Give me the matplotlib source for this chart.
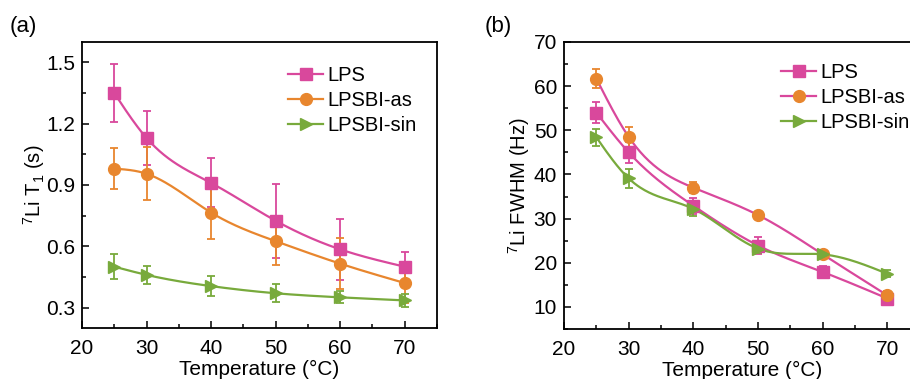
import numpy as np
import matplotlib
matplotlib.use("Agg")
import matplotlib.pyplot as plt
from matplotlib.ticker import MultipleLocator

plt.rcParams['font.family'] = ['Liberation Sans', 'DejaVu Sans']
plt.rcParams['mathtext.fontset'] = 'custom'
plt.rcParams['mathtext.rm'] = 'Liberation Sans'
plt.rcParams['mathtext.it'] = 'Liberation Sans'

temps = [25, 30, 40, 50, 60, 70]
series = ["LPS", "LPSBI-as", "LPSBI-sin"]

# Panel (a): 7Li T1 (s)
t1_lps = [1.35, 1.13, 0.91, 0.725, 0.585, 0.50]
t1_lps_err = [0.14, 0.13, 0.12, 0.18, 0.15, 0.07]
t1_as = [0.98, 0.955, 0.765, 0.625, 0.515, 0.42]
t1_as_err = [0.10, 0.13, 0.13, 0.115, 0.125, 0.10]
t1_sin = [0.50, 0.46, 0.405, 0.37, 0.35, 0.335]
t1_sin_err = [0.06, 0.045, 0.05, 0.045, 0.03, 0.03]

# Panel (b): 7Li FWHM (Hz)
fw_lps = [54.0, 45.0, 32.9, 23.9, 17.9, 11.9]
fw_lps_err = [2.3, 2.3, 1.8, 2.0, 1.3, 1.0]
fw_as = [61.7, 48.5, 37.0, 30.8, 21.9, 12.6]
fw_as_err = [2.2, 2.2, 1.2, 0.8, 1.0, 1.0]
fw_sin = [48.4, 39.1, 32.2, 23.2, 21.9, 17.5]
fw_sin_err = [2.0, 2.2, 1.5, 1.0, 1.0, 0.8]

PINK = '#d9489c'
ORANGE = '#e8862e'
GREEN = '#78aa3c'

FS = 15
LEG_FS = 14.5


def spline_curve(x, y, n=200):
    # natural cubic spline drawn through the data points (line styling only)
    x = np.asarray(x, float); y = np.asarray(y, float)
    k = len(x); h = np.diff(x)
    A = np.zeros((k, k)); b = np.zeros(k)
    A[0, 0] = 1; A[-1, -1] = 1
    for i in range(1, k - 1):
        A[i, i - 1] = h[i - 1]; A[i, i] = 2 * (h[i - 1] + h[i]); A[i, i + 1] = h[i]
        b[i] = 3 * ((y[i + 1] - y[i]) / h[i] - (y[i] - y[i - 1]) / h[i - 1])
    c = np.linalg.solve(A, b)
    xs = np.linspace(x[0], x[-1], n); ys = np.empty_like(xs)
    for j, xv in enumerate(xs):
        i = min(np.searchsorted(x, xv, side='right') - 1, k - 2)
        dx = xv - x[i]
        bb = (y[i + 1] - y[i]) / h[i] - h[i] * (2 * c[i] + c[i + 1]) / 3
        d = (c[i + 1] - c[i]) / (3 * h[i])
        ys[j] = y[i] + bb * dx + c[i] * dx ** 2 + d * dx ** 3
    return xs, ys


fig = plt.figure(figsize=(9.10, 3.79), dpi=100)
axa = fig.add_axes([0.0901, 0.1346, 0.3901, 0.7546])
axb = fig.add_axes([0.6198, 0.1320, 0.3910, 0.7572])

def draw(ax, data, markers, mcolors, lcolors):
    for (name, vals, errs), m, mc, lc in zip(data, markers, mcolors, lcolors):
        xs, ys = spline_curve(temps, vals)
        ax.plot(xs, ys, color=lc, lw=1.6, zorder=2)
        ax.errorbar(temps, vals, yerr=errs, fmt='none', ecolor=mc, elinewidth=1.3,
                    capsize=3, capthick=1.3, zorder=3)
        ax.plot(temps, vals, linestyle='none', marker=m, color=mc, ms=8.5, zorder=4)
        ax.plot([], [], color=lc, lw=1.6, marker=m, mfc=mc, mec=mc, ms=8.5, label=name)

draw(axa, [(series[0], t1_lps, t1_lps_err), (series[1], t1_as, t1_as_err), (series[2], t1_sin, t1_sin_err)],
     ['s', 'o', '>'], [PINK, ORANGE, GREEN], [PINK, ORANGE, GREEN])
draw(axb, [(series[0], fw_lps, fw_lps_err), (series[1], fw_as, fw_as_err), (series[2], fw_sin, fw_sin_err)],
     ['s', 'o', '>'], [PINK, ORANGE, GREEN], [PINK, PINK, GREEN])

axa.set_xlim(20, 75); axa.set_ylim(0.2, 1.6)
axa.set_yticks([0.3, 0.6, 0.9, 1.2, 1.5])
axa.set_yticklabels(['0.3', '0.6', '0.9', '1.2', '1.5'])
axa.yaxis.set_minor_locator(MultipleLocator(0.15))
axb.set_xlim(20, 75); axb.set_ylim(5, 70)
axb.set_yticks([10, 20, 30, 40, 50, 60, 70])
axb.yaxis.set_minor_locator(MultipleLocator(5))

for ax in (axa, axb):
    ax.set_xticks([20, 30, 40, 50, 60, 70])
    ax.xaxis.set_minor_locator(MultipleLocator(5))
    ax.tick_params(which='both', direction='in', labelsize=FS, width=1.1)
    ax.tick_params(axis='x', pad=8)
    ax.tick_params(axis='y', pad=5)
    ax.tick_params(which='major', length=5)
    ax.tick_params(which='minor', length=3)
    for s in ax.spines.values():
        s.set_linewidth(1.3)
    ax.set_xlabel('Temperature (°C)', fontsize=FS, labelpad=1.5)

legkw = dict(loc='upper left', frameon=False, fontsize=LEG_FS, handlelength=1.75,
             handletextpad=0.2, labelspacing=0.3, borderpad=0, borderaxespad=0)
axa.legend(bbox_to_anchor=(0.580, 0.915), **legkw)
axb.legend(bbox_to_anchor=(0.610, 0.926), **legkw)

axa.set_ylabel('$^7$Li T$_1$ (s)', fontsize=14.5, labelpad=-1)
axb.set_ylabel('$^7$Li FWHM (Hz)', fontsize=14.5, labelpad=1)

fig.text(0.011, 0.915, '(a)', fontsize=16)
fig.text(0.533, 0.915, '(b)', fontsize=16)

fig.savefig('out.png', dpi=100)
